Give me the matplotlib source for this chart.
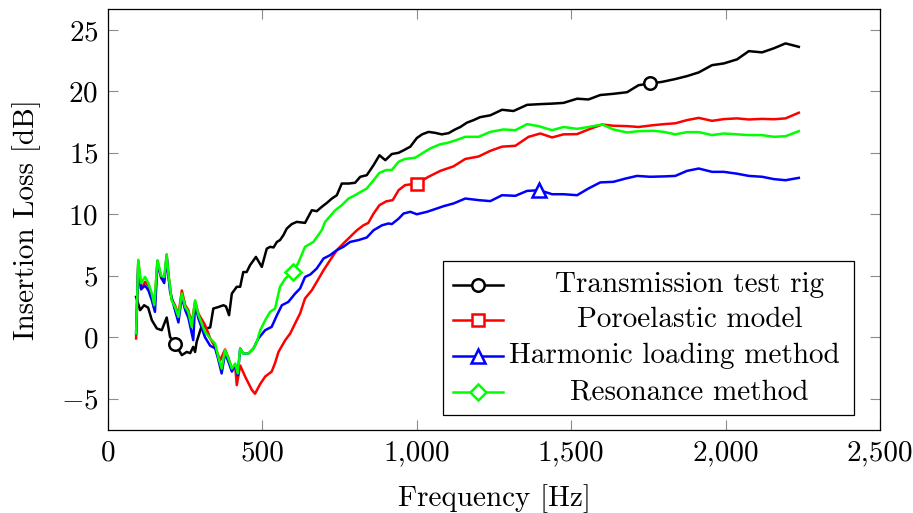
import matplotlib
matplotlib.use('Agg')
import matplotlib.pyplot as plt
from matplotlib.lines import Line2D
from matplotlib.patches import Rectangle

plt.rcParams['font.family'] = 'serif'
plt.rcParams['font.serif'] = ['cmr10']
plt.rcParams['mathtext.fontset'] = 'cm'
plt.rcParams['axes.formatter.use_mathtext'] = True

# Transmission test rig
f_rig = [91, 104, 117, 130, 142, 158, 174, 190, 201, 217, 239, 255, 266, 276, 282, 287,
         304, 320, 331, 341, 357, 374, 382, 392, 401, 417, 428, 438, 449, 460, 479, 498,
         514, 525, 536, 547, 557, 568, 579, 595, 611, 638, 660, 676, 692, 709, 725, 741,
         757, 779, 800, 817, 838, 860, 879, 898, 919, 941, 957, 979, 1000, 1017, 1038,
         1060, 1081, 1103, 1124, 1141, 1162, 1184, 1205, 1238, 1276, 1313, 1357, 1400,
         1438, 1475, 1519, 1556, 1594, 1637, 1681, 1718, 1756, 1794, 1837, 1875, 1913,
         1956, 1994, 2037, 2075, 2118, 2156, 2194, 2237]
il_rig = [3.28, 2.2, 2.6, 2.4, 1.38, 0.71, 0.57, 1.6, 0.02, -0.52, -1.46, -1.2, -1.3, -0.79,
          -1.2, -0.38, 0.98, 0.71, 0.8, 2.33, 2.45, 2.6, 2.5, 1.79, 3.55, 4.1, 4.1, 5.3, 5.3,
          5.86, 6.53, 5.72, 7.2, 7.35, 7.3, 7.75, 7.9, 8.3, 8.84, 9.2, 9.38, 9.3, 10.33,
          10.25, 10.6, 10.93, 11.28, 11.55, 12.5, 12.5, 12.56, 13.05, 13.18, 14.0, 14.8,
          14.4, 14.9, 15.0, 15.2, 15.5, 16.2, 16.5, 16.7, 16.62, 16.5, 16.6, 16.9, 17.1,
          17.45, 17.66, 17.9, 18.05, 18.5, 18.4, 18.9, 18.96, 19.0, 19.06, 19.4, 19.34,
          19.7, 19.8, 19.93, 20.5, 20.64, 20.77, 21.0, 21.24, 21.54, 22.13, 22.27, 22.6,
          23.27, 23.17, 23.5, 23.9, 23.62]
marks_rig = [217, 1756]

# Poroelastic model
f_poro = [91, 98, 107, 120, 131, 142, 150, 160, 172, 182, 190, 195, 206, 217, 228, 239,
          250, 260, 271, 282, 293, 314, 331, 347, 363, 379, 390, 401, 412, 417, 428, 444,
          466, 476, 493, 509, 530, 541, 552, 574, 590, 611, 622, 638, 660, 676, 698, 719,
          741, 762, 784, 806, 827, 843, 860, 879, 901, 922, 941, 962, 1000, 1038, 1076,
          1119, 1157, 1200, 1238, 1276, 1319, 1362, 1400, 1438, 1475, 1519, 1556, 1600,
          1637, 1681, 1718, 1767, 1800, 1837, 1875, 1913, 1956, 1994, 2037, 2075, 2118,
          2156, 2194, 2237]
il_poro = [-0.1, 6.2, 3.9, 4.5, 4.2, 3.4, 2.3, 6.2, 4.8, 4.6, 6.7, 5.1, 3.1, 2.6, 1.8, 3.8,
           2.6, 2.2, 1.1, 2.9, 1.9, 1.0, -0.1, -0.8, -1.9, -1.0, -1.7, -2.6, -2.4, -3.9,
           -2.3, -3.2, -4.3, -4.6, -3.8, -3.2, -2.8, -2.1, -1.2, -0.24, 0.3, 1.38, 1.93,
           3.15, 3.82, 4.5, 5.45, 6.26, 7.08, 7.62, 8.16, 8.7, 9.1, 9.3, 10.06, 10.74, 11.05,
           11.15, 11.96, 12.37, 12.5, 13.05, 13.53, 13.9, 14.5, 14.7, 15.16, 15.5, 15.57,
           16.3, 16.57, 16.25, 16.5, 16.52, 16.9, 17.3, 17.2, 17.17, 17.1, 17.25, 17.33,
           17.4, 17.66, 17.84, 17.6, 17.74, 17.8, 17.71, 17.76, 17.73, 17.8, 18.26]
marks_poro = [1000]

# Harmonic loading method
f_harm = [91, 98, 107, 120, 131, 142, 152, 160, 174, 182, 190, 201, 217, 228, 239, 250,
          260, 276, 282, 293, 314, 331, 347, 357, 368, 379, 390, 401, 412, 420, 428, 438,
          455, 471, 487, 509, 530, 547, 563, 584, 606, 622, 638, 655, 676, 698, 719, 741,
          762, 784, 811, 838, 860, 887, 908, 919, 941, 957, 979, 1000, 1033, 1065, 1087,
          1119, 1157, 1200, 1238, 1276, 1319, 1357, 1397, 1438, 1475, 1519, 1556, 1594,
          1637, 1675, 1713, 1756, 1800, 1837, 1875, 1913, 1956, 1994, 2037, 2075, 2118,
          2156, 2194, 2237]
il_harm = [0.3, 6.0, 3.9, 4.2, 3.8, 3.0, 2.06, 6.0, 4.77, 4.4, 6.5, 3.7, 2.2, 1.2, 3.3, 2.2,
           1.6, -0.24, 2.7, 1.5, 0.0, -0.7, -0.9, -1.8, -2.95, -1.3, -2.0, -2.8, -2.3, -3.1,
           -0.92, -1.33, -1.33, -0.92, -0.1, 0.57, 0.84, 1.79, 2.6, 2.87, 3.55, 3.96, 4.9,
           5.1, 5.59, 6.4, 6.67, 7.08, 7.35, 7.75, 7.9, 8.11, 8.7, 9.1, 9.25, 9.2, 9.64,
           10.06, 10.2, 10.0, 10.2, 10.47, 10.66, 10.88, 11.28, 11.15, 11.07, 11.55, 11.5,
           11.9, 11.96, 11.63, 11.63, 11.55, 12.1, 12.59, 12.64, 12.9, 13.12, 13.05, 13.08,
           13.12, 13.53, 13.72, 13.45, 13.45, 13.3, 13.12, 13.05, 12.86, 12.77, 12.96]
marks_harm = [1397]

# Resonance method
f_res = [91, 98, 107, 120, 131, 142, 150, 160, 172, 182, 190, 195, 206, 217, 228, 239,
         250, 260, 271, 282, 293, 314, 331, 347, 357, 368, 379, 390, 401, 412, 420, 428,
         438, 455, 471, 482, 493, 509, 525, 541, 557, 574, 600, 617, 638, 665, 692, 703,
         736, 757, 779, 800, 817, 838, 860, 879, 901, 919, 941, 962, 995, 1017, 1043, 1076,
         1098, 1124, 1157, 1200, 1238, 1281, 1319, 1357, 1394, 1438, 1475, 1519, 1556,
         1600, 1637, 1681, 1718, 1767, 1800, 1837, 1875, 1913, 1956, 1994, 2037, 2075,
         2118, 2156, 2194, 2237]
il_res = [0.3, 6.3, 4.4, 4.9, 4.37, 3.55, 2.6, 6.26, 5.0, 4.9, 6.75, 5.3, 3.0, 2.46, 1.65,
          3.55, 2.46, 2.06, 0.84, 3.0, 1.79, 0.43, -0.1, -0.52, -1.6, -2.55, -1.06, -1.73,
          -2.55, -2.14, -2.95, -0.92, -1.33, -1.33, -0.92, -0.38, 0.57, 1.38, 2.06, 2.33,
          4.1, 4.77, 5.3, 6.1, 7.35, 7.75, 8.7, 9.38, 10.33, 10.74, 11.28, 11.55, 11.8,
          12.1, 12.77, 13.37, 13.6, 13.6, 14.27, 14.5, 14.6, 14.95, 15.35, 15.7, 15.8, 16.0,
          16.3, 16.3, 16.7, 16.9, 16.84, 17.33, 17.17, 16.84, 17.1, 16.95, 17.1, 17.3, 16.9,
          16.65, 16.76, 16.79, 16.7, 16.5, 16.68, 16.68, 16.44, 16.57, 16.5, 16.44, 16.44,
          16.3, 16.35, 16.76]
marks_res = [600]

labels = ['Transmission test rig', 'Poroelastic model', 'Harmonic loading method',
          'Resonance method']
colors = ['black', '#ff0000', '#0000ff', '#00ff00']
markers = ['o', 's', '^', 'D']
msizes = [9, 9, 10, 8]

x_ticks = [0, 500, 1000, 1500, 2000, 2500]
y_ticks = [-5, 0, 5, 10, 15, 20, 25]


def main():
    fig = plt.figure(figsize=(9.13, 5.13), dpi=100)
    ax = fig.add_axes([0.1183, 0.1618, 0.8456, 0.8207])

    series = [(f_rig, il_rig, marks_rig), (f_poro, il_poro, marks_poro),
              (f_harm, il_harm, marks_harm), (f_res, il_res, marks_res)]
    for (f, il, mk), c, m, ms in zip(series, colors, markers, msizes):
        idx = [f.index(v) for v in mk]
        ax.plot(f, il, color=c, lw=1.8, marker=m, ms=ms, mfc='white', mec=c, mew=1.8,
                markevery=idx, zorder=3)

    ax.set_xlim(0, 2500)
    ax.set_ylim(-7.55, 26.7)
    ax.set_xticks(x_ticks)
    ax.set_xticklabels(['{:,}'.format(v) for v in x_ticks])
    ax.set_yticks(y_ticks)
    ax.set_yticklabels(['$%d$' % v for v in y_ticks])
    ax.tick_params(direction='in', length=7, width=0.8, color='0.55', labelsize=21,
                   top=True, right=True, pad=7)
    for s in ax.spines.values():
        s.set_linewidth(0.9)
    ax.set_xlabel('Frequency [Hz]', fontsize=21, labelpad=13)
    ax.set_ylabel('Insertion Loss [dB]', fontsize=21, labelpad=14)

    # legend drawn like the pgfplots one, text centred in its cell
    ax.add_patch(Rectangle((0.434, 0.036), 0.532, 0.365, transform=ax.transAxes,
                           fc='white', ec='black', lw=0.9, zorder=5))
    rows = [0.344, 0.261, 0.176, 0.090]
    text_x = [0.753, 0.753, 0.733, 0.753]
    for y, tx, lab, c, m, ms in zip(rows, text_x, labels, colors, markers, msizes):
        ax.add_line(Line2D([0.447, 0.512], [y, y], transform=ax.transAxes, color=c,
                           lw=1.8, zorder=6))
        ax.add_line(Line2D([0.479], [y], transform=ax.transAxes, color=c, marker=m,
                           ms=ms, mfc='white', mec=c, mew=1.8, zorder=7))
        ax.text(tx, y, lab, transform=ax.transAxes, ha='center', va='center',
                fontsize=21, zorder=7)

    fig.savefig('out.png', dpi=100)


if __name__ == '__main__':
    main()
